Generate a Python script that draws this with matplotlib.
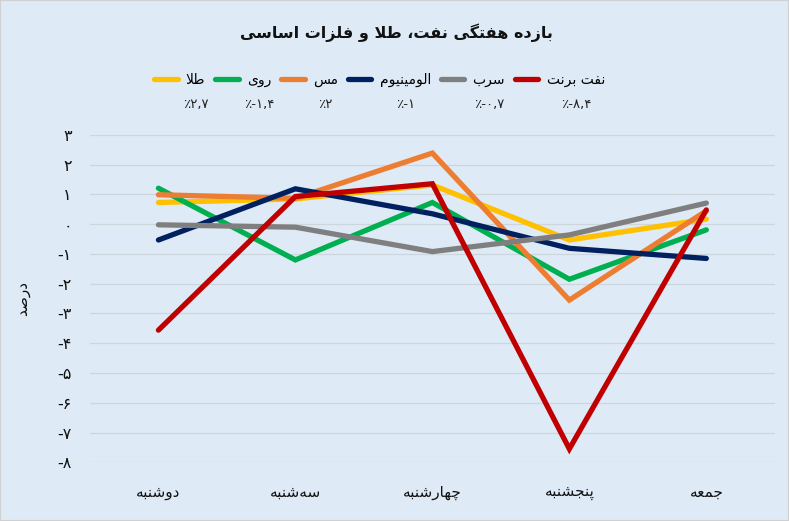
import matplotlib
matplotlib.use("Agg")
import matplotlib.pyplot as plt
from matplotlib.patches import Rectangle

# isolated, final, initial, medial presentation forms
FORMS = {
    "ا": ("\ufe8d", "\ufe8e"),
    "د": ("\ufea9", "\ufeaa"),
    "ر": ("\ufead", "\ufeae"),
    "ز": ("\ufeaf", "\ufeb0"),
    "و": ("\ufeed", "\ufeee"),
    "ب": ("\ufe8f", "\ufe90", "\ufe91", "\ufe92"),
    "پ": ("\ufb56", "\ufb57", "\ufb58", "\ufb59"),
    "ت": ("\ufe95", "\ufe96", "\ufe97", "\ufe98"),
    "ج": ("\ufe9d", "\ufe9e", "\ufe9f", "\ufea0"),
    "چ": ("\ufb7a", "\ufb7b", "\ufb7c", "\ufb7d"),
    "س": ("\ufeb1", "\ufeb2", "\ufeb3", "\ufeb4"),
    "ش": ("\ufeb5", "\ufeb6", "\ufeb7", "\ufeb8"),
    "ص": ("\ufeb9", "\ufeba", "\ufebb", "\ufebc"),
    "ط": ("\ufec1", "\ufec2", "\ufec3", "\ufec4"),
    "ع": ("\ufec9", "\ufeca", "\ufecb", "\ufecc"),
    "ف": ("\ufed1", "\ufed2", "\ufed3", "\ufed4"),
    "گ": ("\ufb92", "\ufb93", "\ufb94", "\ufb95"),
    "ل": ("\ufedd", "\ufede", "\ufedf", "\ufee0"),
    "م": ("\ufee1", "\ufee2", "\ufee3", "\ufee4"),
    "ن": ("\ufee5", "\ufee6", "\ufee7", "\ufee8"),
    "ه": ("\ufee9", "\ufeea", "\ufeeb", "\ufeec"),
    "ی": ("\ufbfc", "\ufbfd", "\ufbfe", "\ufbff"),
}


def dual(c):
    return c in FORMS and len(FORMS[c]) == 4


def shape(text):
    # join the letters and turn to visual (left to right) order
    out = []
    i = 0
    n = len(text)
    while i < n:
        c = text[i]
        if c not in FORMS:
            if c != "\u200c":
                out.append(c)
            i += 1
            continue
        prev_joins = i > 0 and dual(text[i - 1])
        if c == "ل" and i + 1 < n and text[i + 1] == "ا":
            out.append("\ufefc" if prev_joins else "\ufefb")
            i += 2
            continue
        next_joins = dual(c) and i + 1 < n and text[i + 1] in FORMS
        f = FORMS[c]
        if prev_joins and next_joins:
            out.append(f[3])
        elif prev_joins:
            out.append(f[1])
        elif next_joins:
            out.append(f[2])
        else:
            out.append(f[0])
        i += 1
    return "".join(reversed(out))


FA_DIGITS = str.maketrans("0123456789.", "۰۱۲۳۴۵۶۷۸۹,")


def fa(v):
    return f"{v:g}".translate(FA_DIGITS)


days = ["دوشنبه", "سه\u200cشنبه", "چهارشنبه", "پنجشنبه", "جمعه"]
names = ["طلا", "روی", "مس", "الومینیوم", "سرب", "نفت برنت"]
colors = ["#FFC000", "#00B050", "#ED7D31", "#002060", "#7F7F7F", "#C00000"]
weekly = [2.7, -1.4, 2, -1, -0.7, -8.4]

gold = [0.73, 0.85, 1.32, -0.53, 0.17]
zinc = [1.21, -1.20, 0.73, -1.85, -0.19]
copper = [0.99, 0.87, 2.39, -2.55, 0.45]
aluminium = [-0.53, 1.19, 0.35, -0.81, -1.15]
lead = [-0.02, -0.10, -0.92, -0.36, 0.71]
brent = [-3.56, 0.93, 1.36, -7.55, 0.48]
series = [gold, zinc, copper, aluminium, lead, brent]

bg = "#DEEAF6"
plt.rcParams["font.family"] = ["DejaVu Sans"]

fig = plt.figure(figsize=(7.89, 5.21), dpi=100, facecolor=bg)
fig.patches.append(Rectangle((0, 0), 1, 1, transform=fig.transFigure,
                             fill=False, edgecolor="#D0D0D0", lw=1.5))
ax = fig.add_axes([0.114, 0.1127, 0.868, 0.6283])
ax.set_facecolor(bg)

x = range(len(days))
handles = []
for vals, name, col in zip(series, names, colors):
    h, = ax.plot(x, vals, color=col, lw=3.8, solid_capstyle="round",
                 solid_joinstyle="miter", label=shape(name))
    handles.append(h)

ax.set_xlim(-0.5, len(days) - 0.5)
ax.set_ylim(-8, 3)
yt = list(range(-8, 4))
ax.set_yticks(yt)
ax.set_yticklabels([fa(v) for v in yt])
ax.set_xticks(list(x))
ax.set_xticklabels([shape(d) for d in days])
ax.tick_params(axis="y", length=0, labelsize=11.5, pad=13, labelcolor="#111111")
ax.tick_params(axis="x", length=0, labelsize=11, pad=16, labelcolor="#111111")
ax.grid(axis="y", color="#CDD5DD", lw=0.9)
ax.set_axisbelow(True)
for s in ax.spines.values():
    s.set_visible(False)

ax.set_ylabel(shape("درصد"), fontsize=11, color="#111111")
ax.yaxis.set_label_coords(-0.087, 0.5)

fig.text(0.503, 0.937, shape("بازده هفتگی نفت، طلا و فلزات اساسی"),
         ha="center", va="center", fontsize=11.5, fontweight="bold",
         color="#111111")

leg = fig.legend(handles=handles, loc="center", ncol=6, frameon=False,
                 bbox_to_anchor=(0.481, 0.846), fontsize=10,
                 handlelength=1.7, handletextpad=0.6, columnspacing=0.7)

fig.canvas.draw()
inv = fig.transFigure.inverted()
for t, v in zip(leg.get_texts(), weekly):
    bb = t.get_window_extent()
    cx = inv.transform(((bb.x0 + bb.x1) / 2, 0))[0]
    fig.text(cx, 0.80, "٪" + fa(v), ha="center", va="center",
             fontsize=9.5, color="#222222")

fig.savefig("out.png", dpi=100, facecolor=bg)
